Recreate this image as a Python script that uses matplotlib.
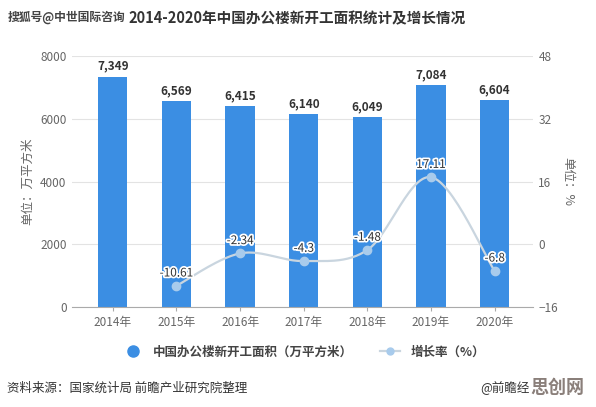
import numpy as np
import matplotlib
matplotlib.use('Agg')
import matplotlib.pyplot as plt
import matplotlib.patheffects as pe
from matplotlib.lines import Line2D

plt.rcParams['font.family'] = ['Noto Sans CJK SC', 'DejaVu Sans']

# 数据
years = ['2014年', '2015年', '2016年', '2017年', '2018年', '2019年', '2020年']
area = [7349, 6569, 6415, 6140, 6049, 7084, 6604]
growth = [-10.61, -2.34, -4.3, -1.48, 17.11, -6.8]   # 2015-2020
area_ticks = [0, 2000, 4000, 6000, 8000]
rate_ticks = [-16, 0, 16, 32, 48]

bar_color = '#3b8ee3'
line_color = '#c9d5df'
dot_color = '#a8cbec'
text_gray = '#666666'


def catmull_rom(x, y, n=30):
    # 平滑曲线（仅用于绘制连线）
    x = np.asarray(x, float)
    y = np.asarray(y, float)
    px = np.r_[x[0], x, x[-1]]
    py = np.r_[y[0], y, y[-1]]
    xs, ys = [], []
    for i in range(1, len(px) - 2):
        t = np.linspace(0, 1, n)
        for p, out in ((px, xs), (py, ys)):
            p0, p1, p2, p3 = p[i - 1], p[i], p[i + 1], p[i + 2]
            out.append(0.5 * ((2 * p1) + (-p0 + p2) * t
                              + (2 * p0 - 5 * p1 + 4 * p2 - p3) * t ** 2
                              + (-p0 + 3 * p1 - 3 * p2 + p3) * t ** 3))
    return np.concatenate(xs), np.concatenate(ys)


fig = plt.figure(figsize=(5.96, 4.07), dpi=100)
ax = fig.add_axes([0.121, 0.246, 0.773, 0.616])
ax2 = ax.twinx()

x = np.arange(len(years))
ax.bar(x, area, width=0.46, color=bar_color, zorder=2)
for xi, v in zip(x, area):
    ax.text(xi, v + 120, f'{v:,}', ha='center', va='bottom', fontsize=8.5,
            fontweight='bold', color='#333333')

ax.set_ylim(0, 8000)
ax.set_xlim(-0.64, 6.6)
ax.set_yticks(area_ticks)
ax.set_xticks(x)
ax.set_xticklabels(years)
ax.grid(axis='y', color='#e3e3e3', linewidth=0.8, zorder=0)
ax.set_axisbelow(True)
for s in ['top', 'right', 'left']:
    ax.spines[s].set_visible(False)
ax.spines['bottom'].set_color('#aaaaaa')
ax.tick_params(axis='y', length=0, colors=text_gray, labelsize=8.5, pad=4)
ax.tick_params(axis='x', length=3, color='#aaaaaa', colors=text_gray, labelsize=8.5)
ax.set_ylabel('单位：万平方米', color=text_gray, fontsize=9, labelpad=4)

# 增长率折线
gx = x[1:]
sx, sy = catmull_rom(gx, growth)
ax2.plot(sx, sy, color=line_color, linewidth=1.6, zorder=3)
ax2.plot(gx, growth, 'o', color=dot_color, markersize=6, zorder=4)
for xi, v in zip(gx, growth):
    ax2.text(xi, v + 1.6, f'{v:g}', ha='center', va='bottom', fontsize=8.5,
             color='#333333', zorder=5,
             path_effects=[pe.withStroke(linewidth=2.5, foreground='white')])
ax2.set_ylim(-16, 48)
ax2.set_yticks(rate_ticks)
for s in ['top', 'right', 'left', 'bottom']:
    ax2.spines[s].set_visible(False)
ax2.tick_params(axis='y', length=0, colors=text_gray, labelsize=8.5, pad=4)
ax2.set_ylabel('单位：%', color=text_gray, fontsize=9, rotation=-90, labelpad=12)

# 图例
handles = [
    Line2D([], [], marker='o', linestyle='none', color=bar_color, markersize=8),
    Line2D([], [], marker='o', color=line_color, markerfacecolor=dot_color,
           markeredgecolor=dot_color, markersize=5, linewidth=1.6),
]
fig.legend(handles, ['中国办公楼新开工面积（万平方米）', '增长率（%）'],
           loc='center', bbox_to_anchor=(0.51, 0.135), ncol=2, frameon=False,
           handlelength=1.6, columnspacing=2.2,
           prop={'weight': 'bold', 'size': 9})
for t in fig.legends[0].get_texts():
    t.set_color('#444444')

# 标题与水印
fig.text(0.215, 0.955, '2014-2020年中国办公楼新开工面积统计及增长情况',
         ha='left', va='center', fontsize=10.5, fontweight='bold', color='#333333')
fig.text(0.013, 0.958, '搜狐号@中世国际咨询', ha='left', va='center', fontsize=8.5,
         fontweight='bold', color='#444444')

fig.text(0.012, 0.047, '资料来源：国家统计局 前瞻产业研究院整理', ha='left', va='center',
         fontsize=9, color='#333333')
fig.text(0.805, 0.047, '@前瞻经', ha='left', va='center', fontsize=9, color='#333333')
fig.text(0.935, 0.047, '思创网', ha='center', va='center', fontsize=13,
         fontweight='bold', color='#8a7f7a')

fig.savefig('out.png', dpi=100, facecolor='white')
